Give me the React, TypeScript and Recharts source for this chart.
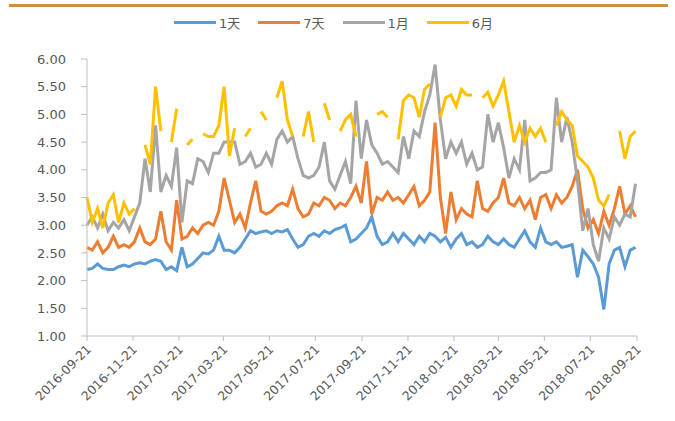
import React from 'react';
import { LineChart, Line, XAxis, YAxis } from 'recharts';

const startDate = '2016-09-21';
const tickDates = [
  '2016-09-21', '2016-11-21', '2017-01-21', '2017-03-21', '2017-05-21', '2017-07-21',
  '2017-09-21', '2017-11-21', '2018-01-21', '2018-03-21', '2018-05-21', '2018-07-21', '2018-09-21',
];
const yTicks = [1, 1.5, 2, 2.5, 3, 3.5, 4, 4.5, 5, 5.5, 6];

// days after 2016-09-21
const dayOffsets = [
  0, 7, 14, 21, 28, 35, 42, 49, 56, 63, 70, 77, 84, 91, 98, 105, 112, 119, 126, 133,
  140, 147, 154, 161, 168, 175, 182, 189, 196, 203, 210, 217, 224, 231, 238, 245, 252, 259, 266, 273,
  280, 287, 294, 301, 308, 315, 322, 329, 336, 343, 350, 357, 364, 371, 378, 385, 392, 399, 406, 413,
  420, 427, 434, 441, 448, 455, 462, 469, 476, 483, 490, 497, 504, 511, 518, 525, 532, 539, 546, 553,
  560, 567, 574, 581, 588, 595, 602, 609, 616, 623, 630, 637, 644, 651, 658, 665, 672, 679, 686, 693,
  700, 707, 714, 721, 728,
];

const series1D = [
  2.2, 2.22, 2.3, 2.22, 2.2, 2.2, 2.25, 2.28, 2.25, 2.3,
  2.32, 2.3, 2.35, 2.38, 2.35, 2.2, 2.25, 2.18, 2.6, 2.25,
  2.3, 2.4, 2.5, 2.48, 2.55, 2.8, 2.55, 2.55, 2.5, 2.6,
  2.75, 2.9, 2.85, 2.88, 2.9, 2.85, 2.9, 2.88, 2.92, 2.75,
  2.6, 2.65, 2.8, 2.85, 2.8, 2.9, 2.85, 2.92, 2.95, 3.0,
  2.7, 2.75, 2.85, 2.95, 3.15, 2.8, 2.65, 2.7, 2.85, 2.7,
  2.85, 2.75, 2.65, 2.8, 2.7, 2.85, 2.8, 2.7, 2.78, 2.6,
  2.75, 2.85, 2.65, 2.7, 2.6, 2.65, 2.8, 2.7, 2.65, 2.75,
  2.65, 2.6, 2.75, 2.9, 2.7, 2.6, 2.95, 2.7, 2.65, 2.7,
  2.6, 2.62, 2.65, 2.06, 2.55, 2.43, 2.3, 2.06, 1.48, 2.3,
  2.55, 2.6, 2.25, 2.55, 2.6,
];

const series7D = [
  2.6, 2.55, 2.7, 2.5, 2.6, 2.8, 2.6, 2.65, 2.6, 2.7,
  2.95, 2.7, 2.65, 2.75, 3.25, 2.7, 2.55, 3.45, 2.75, 2.8,
  2.95, 2.85, 3.0, 3.05, 3.0, 3.25, 3.85, 3.45, 3.05, 3.2,
  2.95, 3.4, 3.8, 3.25, 3.2, 3.25, 3.35, 3.4, 3.35, 3.65,
  3.3, 3.15, 3.2, 3.4, 3.35, 3.5, 3.45, 3.3, 3.4, 3.35,
  3.5, 3.7, 3.4, 4.15, 3.2, 3.5, 3.45, 3.6, 3.45, 3.5,
  3.4, 3.55, 3.7, 3.35, 3.45, 3.6, 4.85, 3.5, 2.85, 3.6,
  3.1, 3.3, 3.2, 3.15, 3.8, 3.3, 3.25, 3.4, 3.5, 3.85,
  3.4, 3.35, 3.5, 3.3, 3.45, 3.1, 3.5, 3.55, 3.3, 3.55,
  3.4, 3.5, 3.7, 4.0, 3.3, 2.95, 3.1, 2.85, 3.25, 3.0,
  3.3, 3.7, 3.2, 3.35, 3.15,
];

const series1M = [
  3.0, 3.15, 2.95, 3.2, 2.9, 3.05, 2.95, 3.1, 2.9, 3.15,
  3.4, 4.2, 3.6, 4.8, 3.6, 3.9, 3.7, 4.4, 3.05, 3.8,
  3.75, 4.2, 4.15, 3.95, 4.3, 4.3, 4.5, 4.5, 4.5, 4.1,
  4.15, 4.3, 4.05, 4.1, 4.3, 4.1, 4.55, 4.7, 4.5, 4.6,
  4.2, 3.9, 3.85, 3.9, 4.05, 4.5, 3.8, 3.65, 3.9, 4.15,
  3.75, 5.25, 4.2, 4.9, 4.45, 4.3, 4.1, 4.15, 4.05, 3.95,
  4.6, 4.2, 4.7, 4.6, 5.05, 5.35, 5.9, 4.9, 4.2, 4.5,
  4.3, 4.5, 4.1, 4.3, 4.0, 4.05, 5.0, 4.5, 4.85, 4.4,
  3.85, 4.2, 4.0, 4.9, 3.8, 3.85, 3.95, 3.95, 4.0, 5.3,
  4.5, 4.95, 4.5, 3.8, 2.9, 3.3, 2.65, 2.35, 2.95, 2.75,
  3.15, 3.0, 3.2, 3.15, 3.75,
];

const series6M = [
  3.5, 3.05, 3.3, 2.95, 3.4, 3.55, 3.05, 3.4, 3.2, 3.3,
  null, 4.45, 4.1, 5.5, 4.7, null, 4.5, 5.1, null, 4.45,
  4.55, null, 4.65, 4.6, 4.6, 4.8, 5.5, 4.25, 4.75, null,
  4.6, 4.75, null, 5.05, 4.9, null, 5.3, 5.6, 4.9, 4.6,
  null, 4.6, 5.05, 4.5, null, 5.2, 4.9, null, 4.7, 4.9,
  5.0, 4.6, null, null, null, 5.0, 5.05, 4.95, null, 4.55,
  5.25, 5.35, 5.3, 4.95, 5.45, 5.55, null, 4.95, 5.3, 5.35,
  5.15, 5.45, 5.35, 5.35, null, 5.3, 5.4, 5.15, 5.35, 5.6,
  5.05, 4.5, 4.8, 4.5, 4.75, 4.6, 4.75, 4.5, null, 4.8,
  5.05, 4.9, 4.8, 4.25, 4.15, 4.05, 3.85, 3.45, 3.35, 3.55,
  null, 4.7, 4.2, 4.6, 4.7,
];

const seriesNames = ['1天', '7天', '1月', '6月'];
const seriesKeys = ['d1', 'd7', 'm1', 'm6'];
const seriesColors = ['#5B9BD5', '#ED7D31', '#A5A5A5', '#FFC000'];

const toDay = (s: string) => Math.round((Date.parse(s) - Date.parse(startDate)) / 86400000);
const tickDays = tickDates.map(toDay);

const data = dayOffsets.map((d, i) => ({
  day: d,
  d1: series1D[i],
  d7: series7D[i],
  m1: series1M[i],
  m6: series6M[i],
}));

const FONT = '"DejaVu Sans", "Noto Sans CJK SC", sans-serif';

const XTick = (props: any) => {
  const { x, y, payload } = props;
  const idx = tickDays.indexOf(payload.value);
  const label = idx >= 0 ? tickDates[idx] : '';
  const px = x + 5;
  const py = y + 7;
  return (
    <text
      x={px}
      y={py}
      transform={`rotate(-45 ${px} ${py})`}
      textAnchor="end"
      fill="#595959"
      fontSize={12.5}
      fontFamily={FONT}
    >
      {label}
    </text>
  );
};

export default function App() {
  return (
    <div style={{ position: 'absolute', left: 0, top: 0, width: 675, height: 421, background: '#fff' }}>
      <div style={{ position: 'absolute', left: 9, top: 4, width: 659, height: 3, background: '#C8923F' }} />
      <div
        style={{
          position: 'absolute',
          left: 174,
          top: 13,
          display: 'flex',
          alignItems: 'center',
          fontFamily: FONT,
          fontSize: 13,
          color: '#595959',
          height: 18,
        }}
      >
        {seriesNames.map((n, i) => (
          <div key={n} style={{ display: 'flex', alignItems: 'center', marginRight: 18 }}>
            <div style={{ width: 42, height: 3, background: seriesColors[i], marginRight: 3 }} />
            <span>{n}</span>
          </div>
        ))}
      </div>
      <LineChart
        width={675}
        height={421}
        data={data}
        margin={{ top: 59, right: 38, bottom: 0, left: 0 }}
      >
        <XAxis
          dataKey="day"
          type="number"
          domain={[0, 730]}
          ticks={tickDays}
          interval={0}
          height={85}
          tick={<XTick />}
          tickSize={5}
          tickMargin={2}
          stroke="#BFBFBF"
          tickLine={{ stroke: '#BFBFBF' }}
          axisLine={{ stroke: '#BFBFBF' }}
        />
        <YAxis
          type="number"
          domain={[1, 6]}
          ticks={yTicks}
          interval={0}
          width={87}
          tickSize={6}
          tickMargin={15}
          tickFormatter={(v: number) => v.toFixed(2)}
          tick={{ fill: '#595959', fontSize: 13, fontFamily: FONT }}
          stroke="#BFBFBF"
          tickLine={{ stroke: '#BFBFBF' }}
          axisLine={{ stroke: '#BFBFBF' }}
        />
        {seriesKeys.map((k, i) => (
          <Line
            key={k}
            type="linear"
            dataKey={k}
            name={seriesNames[i]}
            stroke={seriesColors[i]}
            strokeWidth={3}
            dot={false}
            connectNulls={false}
            isAnimationActive={false}
          />
        ))}
      </LineChart>
    </div>
  );
}
